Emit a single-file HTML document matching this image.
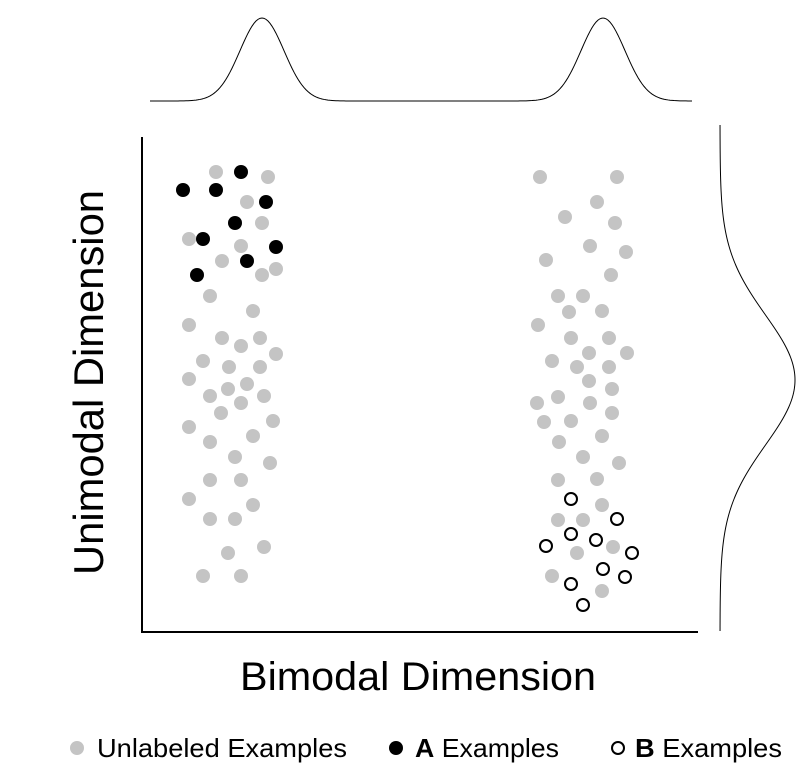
<!DOCTYPE html>
<html><head><meta charset="utf-8"><style>
html,body{margin:0;padding:0;background:#fff;}
svg{display:block;}
text{font-family:"Liberation Sans",sans-serif;fill:#000;}
</style></head><body>
<svg id="s" width="802" height="774" viewBox="0 0 802 774" xmlns="http://www.w3.org/2000/svg">
<path id="top" fill="none" stroke="#000" stroke-width="1"/>
<path id="right" fill="none" stroke="#000" stroke-width="1"/>
<path d="M142 137 V632 H698" fill="none" stroke="#000" stroke-width="2"/>
<g id="dots"></g>
<text x="240" y="690" font-size="40" textLength="356" lengthAdjust="spacingAndGlyphs">Bimodal Dimension</text>
<text transform="translate(103,575) rotate(-90)" x="0" y="0" font-size="42" textLength="385" lengthAdjust="spacingAndGlyphs">Unimodal Dimension</text>
<circle cx="77" cy="748" r="7" fill="#c4c4c4"/>
<text x="97" y="757" font-size="26" textLength="250" lengthAdjust="spacingAndGlyphs">Unlabeled Examples</text>
<circle cx="396" cy="748" r="7" fill="#000"/>
<text x="415" y="757" font-size="26" textLength="144" lengthAdjust="spacingAndGlyphs"><tspan font-weight="bold">A</tspan> Examples</text>
<circle cx="618" cy="748" r="6" fill="#fff" stroke="#000" stroke-width="2"/>
<text x="635" y="757" font-size="26" textLength="147" lengthAdjust="spacingAndGlyphs"><tspan font-weight="bold">B</tspan> Examples</text>
</svg>
<script>
(function(){
var ns="http://www.w3.org/2000/svg";
var g=document.getElementById('dots');
var gray=[[216,172],[268,177],[247,202],[262,223],[189,239],[241,246],[222,261],[262,275],[276,269],[210,296],[253,311],[189,325],[222,338],[260,338],[241,346],[276,354],[203,361],[229,367],[260,367],[189,379],[247,384],[210,396],[228,389],[241,403],[264,396],[221,413],[273,421],[189,427],[253,436],[210,442],[235,457],[270,463],[210,480],[241,480],[189,499],[253,505],[210,519],[235,519],[264,547],[228,553],[203,576],[241,576],
[540,177],[617,177],[597,202],[565,217],[615,223],[590,246],[626,252],[546,260],[611,275],[558,296],[583,296],[569,312],[602,311],[538,325],[571,338],[609,338],[589,353],[627,353],[552,361],[577,367],[609,367],[589,381],[612,389],[558,397],[537,403],[590,403],[612,413],[544,422],[571,421],[559,442],[602,436],[583,457],[619,463],[558,480],[597,479],[602,505],[558,520],[583,520],[613,547],[577,553],[552,576],[602,591]];
var blk=[[241,172],[183,190],[216,190],[266,202],[235,223],[203,239],[276,247],[247,261],[197,275]];
var opn=[[571,499],[617,519],[571,534],[596,540],[546,546],[632,553],[603,569],[625,577],[571,584],[583,605]];
function c(x,y,r,f,s){var e=document.createElementNS(ns,'circle');e.setAttribute('cx',x);e.setAttribute('cy',y);e.setAttribute('r',r);e.setAttribute('fill',f);if(s){e.setAttribute('stroke','#000');e.setAttribute('stroke-width','2');}g.appendChild(e);}
gray.forEach(function(p){c(p[0],p[1],7,'#c4c4c4');});
blk.forEach(function(p){c(p[0],p[1],7,'#000');});
opn.forEach(function(p){c(p[0],p[1],6,'#fff',1);});
var d='';
for(var x=150;x<=693;x+=2){var y=101-83*(Math.exp(-Math.pow((x-262)/22,2)/2)+Math.exp(-Math.pow((x-603)/22,2)/2));d+=(d?'L':'M')+x+' '+y.toFixed(2);}
document.getElementById('top').setAttribute('d',d);
d='';
for(var y=125;y<=632;y+=2){var x=720+75*Math.exp(-Math.pow((y-380)/65,2)/2);d+=(d?'L':'M')+x.toFixed(2)+' '+y;}
document.getElementById('right').setAttribute('d',d);
})();
</script>
</body></html>
